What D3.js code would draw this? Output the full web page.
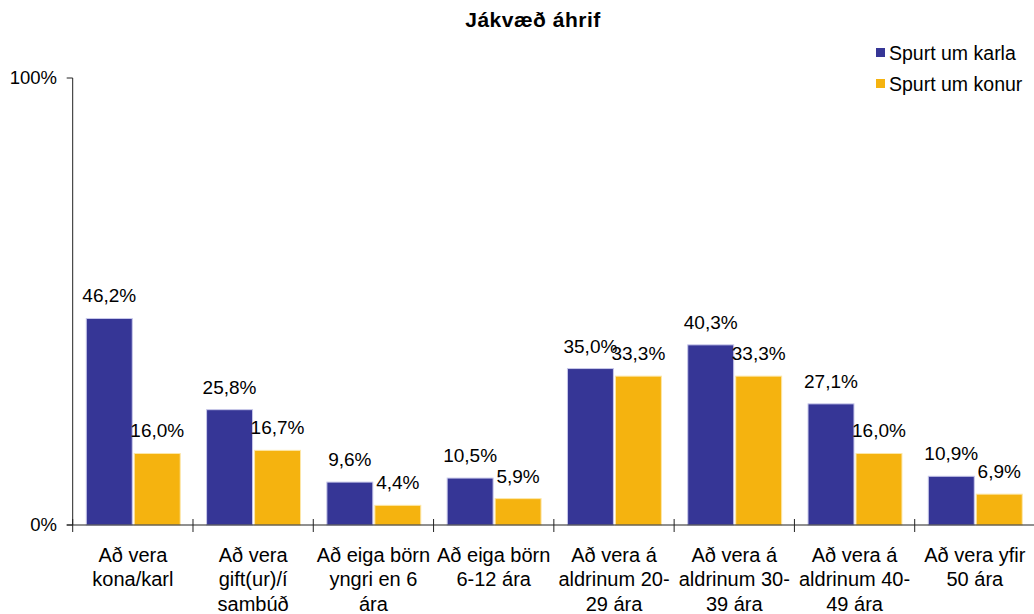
<!DOCTYPE html>
<html>
<head>
<meta charset="utf-8">
<script src="https://cdn.jsdelivr.net/npm/d3@7"></script>
<style>
  html, body { margin: 0; padding: 0; background: #fff; }
  svg { display: block; font-family: Arial, "Liberation Sans", sans-serif; }
</style>
</head>
<body>
<svg id="chart" width="1034" height="614"></svg>
<script>
// Category labels (line breaks marked with \n)
const categories = [
  "Að vera\nkona/karl",
  "Að vera\ngift(ur)/í\nsambúð",
  "Að eiga börn\nyngri en 6\nára",
  "Að eiga börn\n6-12 ára",
  "Að vera á\naldrinum 20-\n29 ára",
  "Að vera á\naldrinum 30-\n39 ára",
  "Að vera á\naldrinum 40-\n49 ára",
  "Að vera yfir\n50 ára"
];
const seriesNames = ["Spurt um karla", "Spurt um konur"];
const karla = [46.2, 25.8, 9.6, 10.5, 35.0, 40.3, 27.1, 10.9];
const konur = [16.0, 16.7, 4.4, 5.9, 33.3, 33.3, 16.0, 6.9];
const yTicks = [0, 100];
const colors = ["#363696", "#F5B30F"];
const strokes = ["#c8c8ea", "#fde7a8"];

const svg = d3.select("#chart");
const plot = { left: 72.7, right: 1035, top: 78, bottom: 525 };

const x = d3.scaleBand().domain(d3.range(categories.length))
  .range([plot.left, plot.right]).paddingInner(0).paddingOuter(0);
const bw = x.bandwidth();
const xInner = d3.scaleBand().domain([0, 1])
  .range([bw * 0.113, bw * 0.894]).paddingInner(0.042).paddingOuter(0);
const y = d3.scaleLinear().domain([0, 100]).range([plot.bottom, plot.top]);

const fmt = v => v.toFixed(1).replace(".", ",") + "%";

// Title
svg.append("text")
  .attr("x", 533).attr("y", 27)
  .attr("text-anchor", "middle")
  .attr("font-size", 21).attr("font-weight", "bold")
  .attr("letter-spacing", 0.5)
  .text("Jákvæð áhrif");

// Bars
const series = [karla, konur];
series.forEach((vals, s) => {
  const g = svg.append("g");
  g.selectAll("rect").data(vals).join("rect")
    .attr("x", (d, i) => x(i) + xInner(s))
    .attr("y", d => y(d))
    .attr("width", xInner.bandwidth())
    .attr("height", d => y(0) - y(d))
    .attr("fill", colors[s])
    .attr("stroke", strokes[s]).attr("stroke-width", 1);
});

// Value labels
series.forEach((vals, s) => {
  svg.append("g").selectAll("text").data(vals).join("text")
    .attr("x", (d, i) => x(i) + xInner(s) + xInner.bandwidth() / 2)
    .attr("y", d => y(d) - 16)
    .attr("text-anchor", "middle")
    .attr("font-size", 19)
    .attr("fill", "#000")
    .text(d => fmt(d));
});

// Y axis
const axisColor = "#222";
svg.append("line")
  .attr("x1", plot.left).attr("x2", plot.left)
  .attr("y1", y(100)).attr("y2", y(0))
  .attr("stroke", axisColor).attr("stroke-width", 1);
svg.append("g").selectAll("line").data(yTicks).join("line")
  .attr("x1", plot.left - 6).attr("x2", plot.left)
  .attr("y1", d => y(d)).attr("y2", d => y(d))
  .attr("stroke", axisColor);
svg.append("g").selectAll("text").data(yTicks).join("text")
  .attr("x", 57).attr("y", d => y(d) + 6)
  .attr("text-anchor", "end")
  .attr("font-size", 18.5)
  .text(d => d + "%");

// X axis
svg.append("line")
  .attr("x1", plot.left - 6).attr("x2", 1034)
  .attr("y1", y(0)).attr("y2", y(0))
  .attr("stroke", axisColor).attr("stroke-width", 1.2);
svg.append("g").selectAll("line").data(d3.range(categories.length))
  .join("line")
  .attr("x1", i => x(i)).attr("x2", i => x(i))
  .attr("y1", y(0) - 6).attr("y2", y(0) + 7)
  .attr("stroke", axisColor);

// Category labels
const catG = svg.append("g");
categories.forEach((c, i) => {
  const t = catG.append("text")
    .attr("text-anchor", "middle")
    .attr("font-size", 20);
  c.split("\n").forEach((line, k) => {
    t.append("tspan")
      .attr("x", x(i) + bw / 2)
      .attr("y", 562 + k * 24.3)
      .text(line);
  });
});

// Legend
const legend = svg.append("g");
seriesNames.forEach((n, s) => {
  const ly = 53 + s * 31;
  legend.append("rect")
    .attr("x", 876).attr("y", ly - 5)
    .attr("width", 9).attr("height", 9)
    .attr("fill", colors[s]);
  legend.append("text")
    .attr("x", 889).attr("y", ly + 6.5)
    .attr("font-size", 19.5)
    .text(n);
});
</script>
</body>
</html>
